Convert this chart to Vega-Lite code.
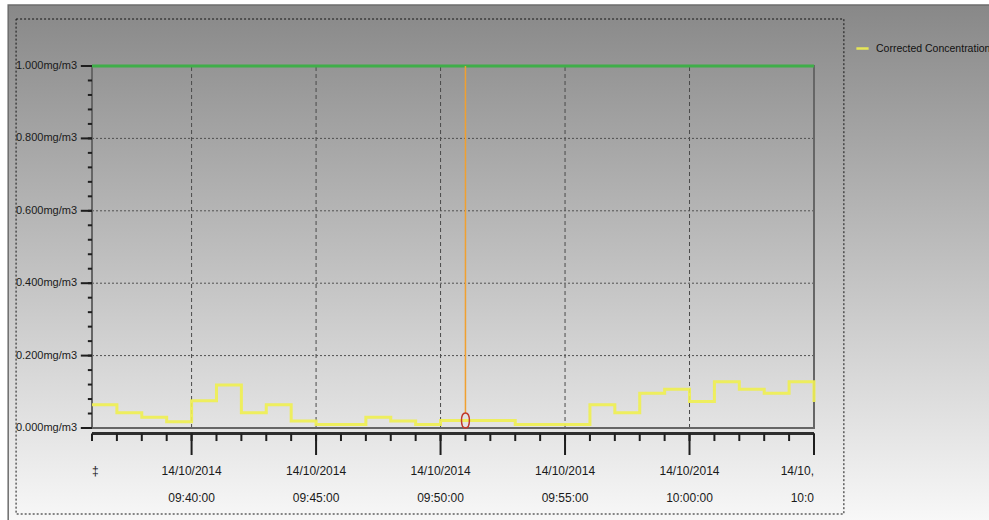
{
  "$schema": "https://vega.github.io/schema/vega-lite/v6.json",
  "width": 722,
  "height": 362,
  "autosize": {"type": "none"},
  "padding": {"left": 92, "top": 66, "right": 175, "bottom": 92},
  "background": "white",
  "config": {
    "font": "'Liberation Sans', Arial, sans-serif",
    "view": {"stroke": null}
  },
  "datasets": {
    "readings": [
      {"time": "2014-10-14T09:36:00", "value": 0.064},
      {"time": "2014-10-14T09:37:00", "value": 0.042},
      {"time": "2014-10-14T09:38:00", "value": 0.030},
      {"time": "2014-10-14T09:39:00", "value": 0.017},
      {"time": "2014-10-14T09:40:00", "value": 0.075},
      {"time": "2014-10-14T09:41:00", "value": 0.119},
      {"time": "2014-10-14T09:42:00", "value": 0.042},
      {"time": "2014-10-14T09:43:00", "value": 0.064},
      {"time": "2014-10-14T09:44:00", "value": 0.019},
      {"time": "2014-10-14T09:45:00", "value": 0.010},
      {"time": "2014-10-14T09:46:00", "value": 0.010},
      {"time": "2014-10-14T09:47:00", "value": 0.030},
      {"time": "2014-10-14T09:48:00", "value": 0.019},
      {"time": "2014-10-14T09:49:00", "value": 0.010},
      {"time": "2014-10-14T09:50:00", "value": 0.021},
      {"time": "2014-10-14T09:51:00", "value": 0.021},
      {"time": "2014-10-14T09:52:00", "value": 0.021},
      {"time": "2014-10-14T09:53:00", "value": 0.010},
      {"time": "2014-10-14T09:54:00", "value": 0.010},
      {"time": "2014-10-14T09:55:00", "value": 0.010},
      {"time": "2014-10-14T09:56:00", "value": 0.064},
      {"time": "2014-10-14T09:57:00", "value": 0.042},
      {"time": "2014-10-14T09:58:00", "value": 0.096},
      {"time": "2014-10-14T09:59:00", "value": 0.107},
      {"time": "2014-10-14T10:00:00", "value": 0.073},
      {"time": "2014-10-14T10:01:00", "value": 0.128},
      {"time": "2014-10-14T10:02:00", "value": 0.107},
      {"time": "2014-10-14T10:03:00", "value": 0.096},
      {"time": "2014-10-14T10:04:00", "value": 0.128},
      {"time": "2014-10-14T10:05:00", "value": 0.072}
    ],
    "cursor": [
      {"time": "2014-10-14T09:51:00", "value": 0.021}
    ],
    "minuteTicks": [
      {"time": "2014-10-14T09:36:00"}, {"time": "2014-10-14T09:37:00"}, {"time": "2014-10-14T09:38:00"},
      {"time": "2014-10-14T09:39:00"}, {"time": "2014-10-14T09:40:00"}, {"time": "2014-10-14T09:41:00"},
      {"time": "2014-10-14T09:42:00"}, {"time": "2014-10-14T09:43:00"}, {"time": "2014-10-14T09:44:00"},
      {"time": "2014-10-14T09:45:00"}, {"time": "2014-10-14T09:46:00"}, {"time": "2014-10-14T09:47:00"},
      {"time": "2014-10-14T09:48:00"}, {"time": "2014-10-14T09:49:00"}, {"time": "2014-10-14T09:50:00"},
      {"time": "2014-10-14T09:51:00"}, {"time": "2014-10-14T09:52:00"}, {"time": "2014-10-14T09:53:00"},
      {"time": "2014-10-14T09:54:00"}, {"time": "2014-10-14T09:55:00"}, {"time": "2014-10-14T09:56:00"},
      {"time": "2014-10-14T09:57:00"}, {"time": "2014-10-14T09:58:00"}, {"time": "2014-10-14T09:59:00"},
      {"time": "2014-10-14T10:00:00"}, {"time": "2014-10-14T10:01:00"}, {"time": "2014-10-14T10:02:00"},
      {"time": "2014-10-14T10:03:00"}, {"time": "2014-10-14T10:04:00"}, {"time": "2014-10-14T10:05:00"}
    ],
    "levelTicks": [
      {"level": 0}, {"level": 0.04}, {"level": 0.08}, {"level": 0.12}, {"level": 0.16}, {"level": 0.2},
      {"level": 0.24}, {"level": 0.28}, {"level": 0.32}, {"level": 0.36}, {"level": 0.4}, {"level": 0.44},
      {"level": 0.48}, {"level": 0.52}, {"level": 0.56}, {"level": 0.6}, {"level": 0.64}, {"level": 0.68},
      {"level": 0.72}, {"level": 0.76}, {"level": 0.8}, {"level": 0.84}, {"level": 0.88}, {"level": 0.92},
      {"level": 0.96}, {"level": 1}
    ],
    "majorTimes": [
      {"time": "2014-10-14T09:40:00", "date": "14/10/2014", "clock": "09:40:00"},
      {"time": "2014-10-14T09:45:00", "date": "14/10/2014", "clock": "09:45:00"},
      {"time": "2014-10-14T09:50:00", "date": "14/10/2014", "clock": "09:50:00"},
      {"time": "2014-10-14T09:55:00", "date": "14/10/2014", "clock": "09:55:00"},
      {"time": "2014-10-14T10:00:00", "date": "14/10/2014", "clock": "10:00:00"},
      {"time": "2014-10-14T10:05:00", "date": "14/10,", "clock": "10:0"}
    ],
    "edgeMark": [
      {"time": "2014-10-14T09:36:00", "text": "‡"}
    ],
    "majorLevels": [
      {"level": 0, "label": "0.000mg/m3"},
      {"level": 0.2, "label": "0.200mg/m3"},
      {"level": 0.4, "label": "0.400mg/m3"},
      {"level": 0.6, "label": "0.600mg/m3"},
      {"level": 0.8, "label": "0.800mg/m3"},
      {"level": 1, "label": "1.000mg/m3"}
    ]
  },
  "layer": [
    {
      "data": {"values": [{}]},
      "mark": {
        "type": "rect",
        "fill": {
          "gradient": "linear",
          "x1": 0, "y1": 0, "x2": 0, "y2": 1,
          "stops": [
            {"offset": 0, "color": "#888888"},
            {"offset": 1, "color": "#f8f8f8"}
          ]
        },
        "stroke": "#6c6c6c",
        "strokeWidth": 1.5
      },
      "encoding": {
        "x": {"datum": {"year": 2014, "month": 10, "date": 14, "hours": 9, "minutes": 32, "seconds": 38}, "type": "temporal",
              "scale": {"domain": [{"year": 2014, "month": 10, "date": 14, "hours": 9, "minutes": 36}, {"year": 2014, "month": 10, "date": 14, "hours": 10, "minutes": 5}], "nice": false}, "axis": null},
        "x2": {"datum": {"year": 2014, "month": 10, "date": 14, "hours": 10, "minutes": 14}},
        "y": {"datum": 1.1685, "type": "quantitative", "scale": {"domain": [0, 1], "nice": false, "zero": false}, "axis": null},
        "y2": {"datum": -0.26}
      }
    },
    {
      "data": {"values": [{}]},
      "mark": {"type": "rect", "fillOpacity": 0, "stroke": "#151515", "strokeWidth": 1, "strokeDash": [2, 2]},
      "encoding": {
        "x": {"datum": {"year": 2014, "month": 10, "date": 14, "hours": 9, "minutes": 32, "seconds": 57}, "type": "temporal", "axis": null},
        "x2": {"datum": {"year": 2014, "month": 10, "date": 14, "hours": 10, "minutes": 6, "seconds": 12}},
        "y": {"datum": 1.1298, "type": "quantitative", "axis": null},
        "y2": {"datum": -0.2376}
      }
    },
    {
      "data": {"name": "majorTimes"},
      "transform": [{"filter": "datum.clock != '10:0'"}],
      "mark": {"type": "rule", "color": "#4a4a4a", "strokeWidth": 1, "strokeDash": [4, 3]},
      "encoding": {
        "x": {"field": "time", "type": "temporal", "axis": null},
        "y": {"datum": 0, "type": "quantitative", "axis": null},
        "y2": {"datum": 1}
      }
    },
    {
      "data": {"name": "majorLevels"},
      "mark": {"type": "rule", "color": "#505050", "strokeWidth": 1, "strokeDash": [2, 2]},
      "encoding": {
        "x": {"datum": {"year": 2014, "month": 10, "date": 14, "hours": 9, "minutes": 36}, "type": "temporal", "axis": null},
        "x2": {"datum": {"year": 2014, "month": 10, "date": 14, "hours": 10, "minutes": 5}},
        "y": {"field": "level", "type": "quantitative", "axis": null}
      }
    },
    {
      "data": {"values": [{}]},
      "mark": {"type": "rect", "fillOpacity": 0, "stroke": "#666666", "strokeWidth": 2},
      "encoding": {
        "x": {"datum": {"year": 2014, "month": 10, "date": 14, "hours": 9, "minutes": 36}, "type": "temporal", "axis": null},
        "x2": {"datum": {"year": 2014, "month": 10, "date": 14, "hours": 10, "minutes": 5}},
        "y": {"datum": 0, "type": "quantitative", "axis": null},
        "y2": {"datum": 1}
      }
    },
    {
      "data": {"values": [{}]},
      "mark": {"type": "rule", "color": "#2e2e2e", "strokeWidth": 3},
      "encoding": {
        "x": {"datum": {"year": 2014, "month": 10, "date": 14, "hours": 9, "minutes": 36}, "type": "temporal", "axis": null},
        "x2": {"datum": {"year": 2014, "month": 10, "date": 14, "hours": 10, "minutes": 5}},
        "y": {"datum": -0.0155, "type": "quantitative", "axis": null}
      }
    },
    {
      "data": {"name": "minuteTicks"},
      "mark": {"type": "rule", "color": "#1e1e1e", "strokeWidth": 2},
      "encoding": {
        "x": {"field": "time", "type": "temporal", "axis": null},
        "y": {"datum": -0.0155, "type": "quantitative", "axis": null},
        "y2": {"datum": -0.036}
      }
    },
    {
      "data": {"name": "majorTimes"},
      "mark": {"type": "rule", "color": "#1e1e1e", "strokeWidth": 2},
      "encoding": {
        "x": {"field": "time", "type": "temporal", "axis": null},
        "y": {"datum": -0.0155, "type": "quantitative", "axis": null},
        "y2": {"datum": -0.0746}
      }
    },
    {
      "data": {"name": "levelTicks"},
      "mark": {"type": "rule", "color": "#1e1e1e", "strokeWidth": 2},
      "encoding": {
        "x": {"datum": {"year": 2014, "month": 10, "date": 14, "hours": 9, "minutes": 35, "seconds": 50}, "type": "temporal", "axis": null},
        "x2": {"datum": {"year": 2014, "month": 10, "date": 14, "hours": 9, "minutes": 36}},
        "y": {"field": "level", "type": "quantitative", "axis": null}
      }
    },
    {
      "data": {"name": "majorLevels"},
      "mark": {"type": "rule", "color": "#1e1e1e", "strokeWidth": 2},
      "encoding": {
        "x": {"datum": {"year": 2014, "month": 10, "date": 14, "hours": 9, "minutes": 35, "seconds": 33}, "type": "temporal", "axis": null},
        "x2": {"datum": {"year": 2014, "month": 10, "date": 14, "hours": 9, "minutes": 36}},
        "y": {"field": "level", "type": "quantitative", "axis": null}
      }
    },
    {
      "data": {"name": "majorTimes"},
      "transform": [{"filter": "datum.clock != '10:0'"}],
      "mark": {"type": "text", "align": "center", "baseline": "middle", "fontSize": 12, "color": "#1a1a1a"},
      "encoding": {
        "x": {"field": "time", "type": "temporal", "axis": null},
        "y": {"datum": -0.119, "type": "quantitative", "axis": null},
        "text": {"field": "date", "type": "nominal"}
      }
    },
    {
      "data": {"name": "majorTimes"},
      "transform": [{"filter": "datum.clock != '10:0'"}],
      "mark": {"type": "text", "align": "center", "baseline": "middle", "fontSize": 12, "color": "#1a1a1a"},
      "encoding": {
        "x": {"field": "time", "type": "temporal", "axis": null},
        "y": {"datum": -0.193, "type": "quantitative", "axis": null},
        "text": {"field": "clock", "type": "nominal"}
      }
    },
    {
      "data": {"name": "majorTimes"},
      "transform": [{"filter": "datum.clock == '10:0'"}],
      "mark": {"type": "text", "align": "right", "baseline": "middle", "fontSize": 12, "color": "#1a1a1a"},
      "encoding": {
        "x": {"field": "time", "type": "temporal", "axis": null},
        "y": {"datum": -0.119, "type": "quantitative", "axis": null},
        "text": {"field": "date", "type": "nominal"}
      }
    },
    {
      "data": {"name": "majorTimes"},
      "transform": [{"filter": "datum.clock == '10:0'"}],
      "mark": {"type": "text", "align": "right", "baseline": "middle", "fontSize": 12, "color": "#1a1a1a"},
      "encoding": {
        "x": {"field": "time", "type": "temporal", "axis": null},
        "y": {"datum": -0.193, "type": "quantitative", "axis": null},
        "text": {"field": "clock", "type": "nominal"}
      }
    },
    {
      "data": {"name": "edgeMark"},
      "mark": {"type": "text", "align": "left", "baseline": "middle", "fontSize": 12, "color": "#1a1a1a"},
      "encoding": {
        "x": {"field": "time", "type": "temporal", "axis": null},
        "y": {"datum": -0.119, "type": "quantitative", "axis": null},
        "text": {"field": "text", "type": "nominal"}
      }
    },
    {
      "data": {"name": "majorLevels"},
      "mark": {"type": "text", "align": "right", "baseline": "middle", "fontSize": 11, "color": "#1a1a1a"},
      "encoding": {
        "x": {"datum": {"year": 2014, "month": 10, "date": 14, "hours": 9, "minutes": 35, "seconds": 24}, "type": "temporal", "axis": null},
        "y": {"field": "level", "type": "quantitative", "axis": null},
        "text": {"field": "label", "type": "nominal"}
      }
    },
    {
      "data": {"name": "readings"},
      "mark": {"type": "line", "interpolate": "step-after", "strokeWidth": 3, "opacity": 0.92},
      "encoding": {
        "x": {"field": "time", "type": "temporal", "axis": null},
        "y": {"field": "value", "type": "quantitative", "axis": null},
        "color": {
          "datum": "Corrected Concentration",
          "type": "nominal",
          "scale": {"range": ["#efef52"]},
          "legend": {
            "title": null,
            "orient": "none",
            "legendX": 763,
            "legendY": -25,
            "padding": 0,
            "symbolType": "stroke",
            "symbolStrokeWidth": 2.5,
            "symbolSize": 150,
            "labelFontSize": 10.5,
            "labelColor": "#111111",
            "labelOffset": 6
          }
        }
      }
    },
    {
      "data": {"values": [{}]},
      "mark": {"type": "rule", "color": "#3fae49", "strokeWidth": 3},
      "encoding": {
        "x": {"datum": {"year": 2014, "month": 10, "date": 14, "hours": 9, "minutes": 36}, "type": "temporal", "axis": null},
        "x2": {"datum": {"year": 2014, "month": 10, "date": 14, "hours": 10, "minutes": 5}},
        "y": {"datum": 1, "type": "quantitative", "axis": null}
      }
    },
    {
      "data": {"name": "cursor"},
      "mark": {"type": "rule", "color": "#f0a030", "strokeWidth": 1.5},
      "encoding": {
        "x": {"field": "time", "type": "temporal", "axis": null},
        "y": {"datum": 1, "type": "quantitative", "axis": null},
        "y2": {"datum": 0.041}
      }
    },
    {
      "data": {"name": "cursor"},
      "mark": {"type": "point", "shape": "M0,-1C0.7,-1 0.7,1 0,1C-0.7,1 -0.7,-1 0,-1Z", "size": 225, "filled": false, "stroke": "#c0392b", "strokeWidth": 1.5, "opacity": 1},
      "encoding": {
        "x": {"field": "time", "type": "temporal", "axis": null},
        "y": {"field": "value", "type": "quantitative", "axis": null}
      }
    }
  ]
}
